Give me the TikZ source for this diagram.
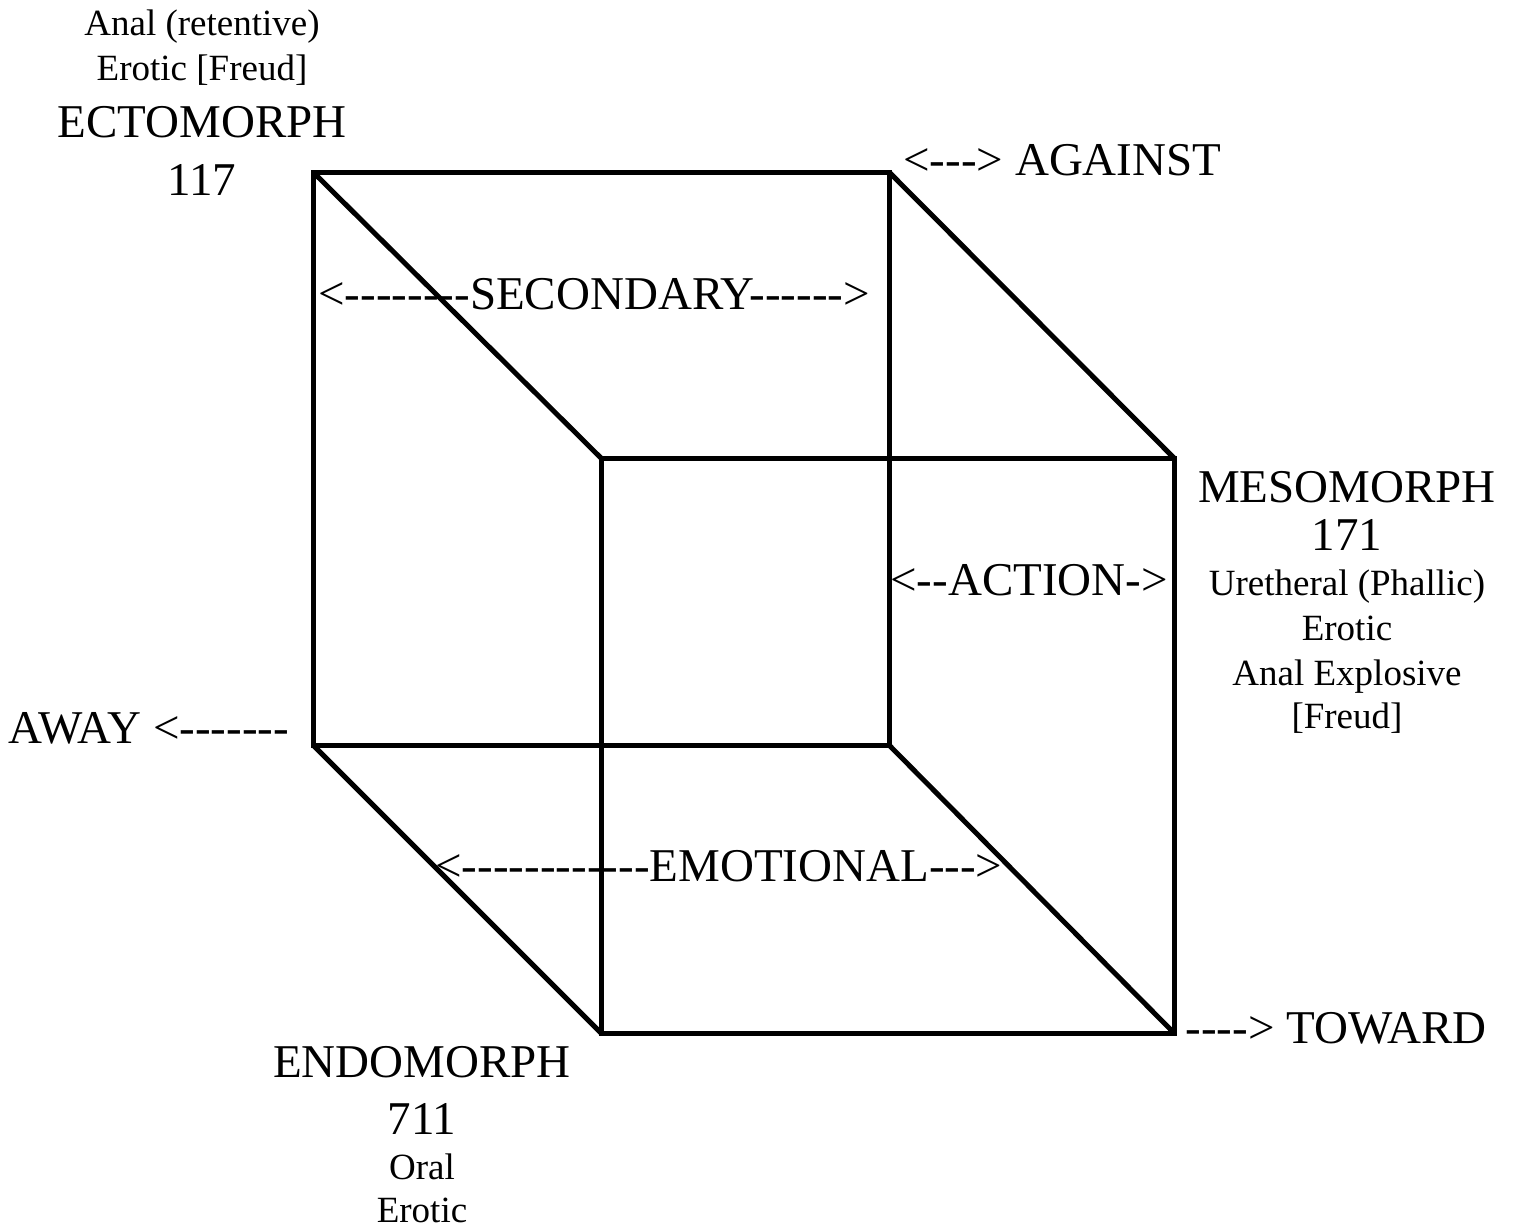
\documentclass[tikz,border=0pt]{standalone}
\usepackage{fontspec}
\setmainfont{Liberation Serif}[Ligatures=TeXOff]
\usetikzlibrary{positioning}

\begin{document}
\begin{tikzpicture}[
    x=0.5pt, y=-0.5pt,
    cubeline/.style={line width=2.5pt, line join=miter},
    bigtext/.style={font=\fontsize{23.5}{28}\selectfont, inner sep=0pt, anchor=base},
    smalltext/.style={font=\fontsize{18.5}{22}\selectfont, inner sep=0pt, anchor=base},
    axislabel/.style={bigtext, anchor=base west}
]
\useasboundingbox (0,0) rectangle (1517,1228);

% Corners of the cube
\coordinate (backTL) at (313,172);
\coordinate (backTR) at (889,172);
\coordinate (backBR) at (889,745);
\coordinate (backBL) at (313,745);
\coordinate (frontTL) at (601,458);
\coordinate (frontTR) at (1174,458);
\coordinate (frontBR) at (1174,1033);
\coordinate (frontBL) at (601,1033);

% Cube
\draw[cubeline] (backTL) -- (backTR) -- (backBR) -- (backBL) -- cycle;
\draw[cubeline] (frontTL) -- (frontTR) -- (frontBR) -- (frontBL) -- cycle;
\draw[cubeline] (backTL) -- (frontTL);
\draw[cubeline] (backTR) -- (frontTR);
\draw[cubeline] (backBR) -- (frontBR);
\draw[cubeline] (backBL) -- (frontBL);

% Ectomorph
\node[smalltext] (ectoA) at (202,35) {Anal (retentive)};
\node[smalltext] (ectoB) at (202,80) {Erotic [Freud]};
\node[bigtext] (ecto) at (202,137) {ECTOMORPH};
\node[bigtext] (ectoNum) at (202,195) {117};

% Mesomorph
\node[bigtext] (meso) at (1347,502) {MESOMORPH};
\node[bigtext] (mesoNum) at (1347,550) {171};
\node[smalltext] (mesoA) at (1347,595) {Uretheral (Phallic)};
\node[smalltext] (mesoB) at (1347,640) {Erotic};
\node[smalltext] (mesoC) at (1347,685) {Anal Explosive};
\node[smalltext] (mesoD) at (1347,728) {[Freud]};

% Endomorph
\node[bigtext] (endo) at (422,1077) {ENDOMORPH};
\node[bigtext] (endoNum) at (422,1134) {711};
\node[smalltext] (endoA) at (422,1179) {Oral};
\node[smalltext] (endoB) at (422,1222) {Erotic};

% Directions
\node[axislabel] (against) at (903,175) {<---> AGAINST};
\node[axislabel] (secondary) at (318,309) {<--------SECONDARY------>};
\node[axislabel] (action) at (890,595) {<--ACTION->};
\node[axislabel] (away) at (8,743) {AWAY <-------};
\node[axislabel] (emotional) at (435,881) {<------------EMOTIONAL--->};
\node[axislabel] (toward) at (1185,1043) {----> TOWARD};

\end{tikzpicture}
\end{document}
